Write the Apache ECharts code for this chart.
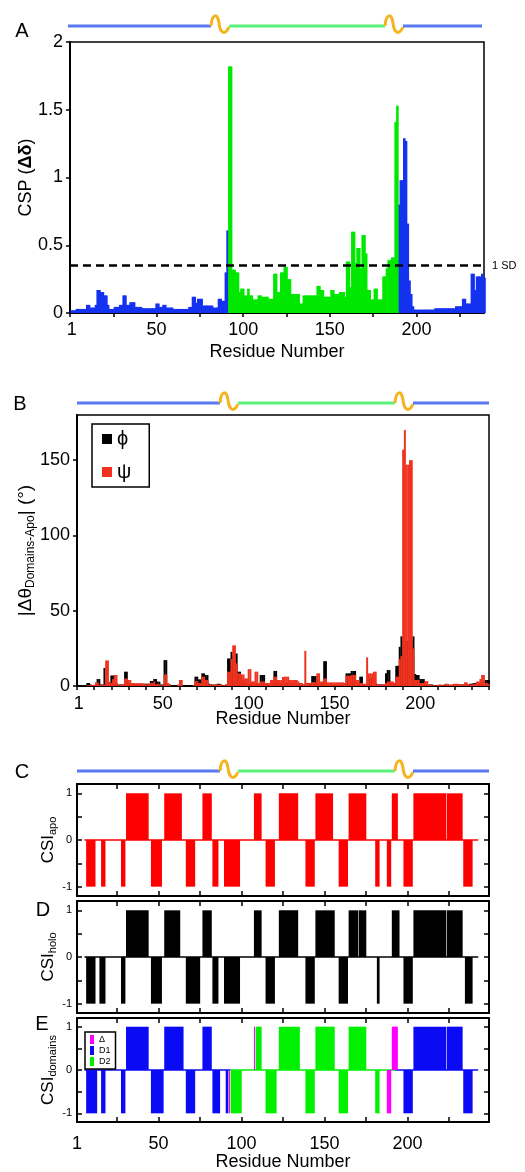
<!DOCTYPE html>
<html><head><meta charset="utf-8">
<script src="https://cdn.jsdelivr.net/npm/echarts@6.0.0/dist/echarts.min.js"></script>
<style>html,body{margin:0;padding:0;background:#fff}#c{width:525px;height:1172px}</style>
</head><body><div id="c"></div>
<script>
// ---------------- DATA ----------------
// Panel A: chemical shift perturbation per residue (residues 1..240)
const cspValues = [
0.02,0.02,0.02,0.03,0.03,0.03,0.03,0.03,0.03,0.06,
0.06,0.04,0.04,0.04,0.06,0.17,0.17,0.155,0.155,0.13,
0.13,0.06,0.03,0.03,0.03,0.045,0.045,0.045,0.06,0.06,
0.13,0.13,0.06,0.06,0.08,0.08,0.08,0.045,0.045,0.045,
0.045,0.035,0.035,0.035,0.035,0.035,0.035,0.035,0.035,0.07,
0.07,0.045,0.045,0.06,0.06,0.04,0.04,0.04,0.04,0.03,
0.03,0.03,0.03,0.03,0.03,0.03,0.03,0.03,0.045,0.045,
0.12,0.12,0.075,0.105,0.105,0.105,0.055,0.055,0.055,0.055,
0.055,0.055,0.04,0.04,0.04,0.105,0.105,0.09,0.09,0.3,
0.61,1.82,1.82,0.32,0.32,0.3,0.3,0.155,0.18,0.18,
0.13,0.13,0.18,0.13,0.13,0.1,0.1,0.1,0.13,0.13,
0.12,0.12,0.12,0.12,0.105,0.105,0.105,0.29,0.29,0.155,
0.155,0.3,0.3,0.34,0.34,0.25,0.25,0.14,0.14,0.14,
0.14,0.14,0.07,0.07,0.13,0.13,0.13,0.13,0.13,0.13,
0.13,0.13,0.2,0.2,0.17,0.17,0.12,0.12,0.12,0.12,
0.17,0.17,0.14,0.14,0.14,0.155,0.155,0.155,0.12,0.38,
0.38,0.19,0.6,0.6,0.37,0.48,0.48,0.33,0.575,0.575,
0.44,0.17,0.17,0.1,0.1,0.18,0.18,0.1,0.1,0.1,
0.27,0.27,0.33,0.39,0.39,0.41,0.41,1.41,1.53,0.8,
0.98,0.98,1.29,1.27,0.66,0.24,0.14,0.05,0.025,0.025,
0.025,0.025,0.025,0.025,0.025,0.025,0.025,0.025,0.025,0.025,
0.035,0.035,0.035,0.035,0.035,0.035,0.035,0.035,0.035,0.035,
0.035,0.035,0.05,0.05,0.05,0.05,0.105,0.105,0.07,0.07,
0.07,0.29,0.29,0.17,0.27,0.27,0.27,0.29,0.26,0.26
];
const domain2Range = [92, 189];      // residues coloured as domain 2 (green)
const sdLevel = 0.353;               // 1 SD threshold

// Panel B: |Δθ| phi and psi per residue (1..240)
const phiValues = [
0,0,0,0,0,2,2,1,0.5,0.5,
1,4.6,4.6,1,1,12,2,2,2,7,
7,2,2,1,1,1,1,9.5,9.5,2,
1,1.5,1.5,1.5,1.5,1.5,1.5,1.5,1.5,1.5,
1.5,1.5,3.3,3.3,4.6,4.6,2.9,2.9,1,1,
17.2,17.2,1.5,1,0.5,0,0,0,0,0,
0,0,0,0,0,0,0,0.5,6.2,6.2,
4.4,4.4,8.4,8.4,7.3,7.3,1.5,1,1,1,
1,1.5,1.5,1,0.5,0.5,1,18.3,18.3,22.7,
20,21.6,21.6,9.5,9.5,4,4,2,2,2,
2,2,1.5,1.5,1.5,1.5,7.3,7.3,7.3,2,
1,1,2,2,10,10,3,2,2,2,
2,2,2,2,1.5,1.5,1.5,1.5,1.5,1,
1,1,1,2,2,2,6.6,6.6,6.6,2,
2,2,2,16.5,16.5,1.5,1,1,1,1,
1,1,1,1,1,1,8.4,8.4,8.4,10,
10,10,2,2,6.2,6.2,1,1,1,5.5,
5.5,5.5,2,2,1,1,1,1,1,8.4,
10.6,10.6,2,2,1,13.4,13.4,26,33,30,
30,30,30,30,30,33,8,7.3,7.3,4.6,
4.6,4.6,1,1,1,1,1,0.5,0.5,0.5,
0.5,0.5,0.5,1,1,1,0.5,0.5,1,1,
1,1,1,1,1,1,1,1,1.5,1.5,
2,2,2,2,2,1,1,4,4,4
];
const psiValues = [
0,0,0,0,0,0.5,0.5,0.5,0.7,0.7,
2.4,2.4,1,0.5,1,1,17,17,3,2,
4.6,7.3,7.3,1,0.5,1,1,5,5,4,
4,2,2,1.8,1.8,1.8,1.8,1.8,1.5,1.5,
1,1.5,2,2,3,1,1.5,1,0.5,0.5,
7.7,7.7,2,1,0,0,0,0,1,4,
4,0,0,0,0,0,0,0.5,3.3,3.3,
2,2,6.2,6.2,4,4,1,1,1,1,
1,1,1,1,0.5,0.5,1,9.5,9.5,18,
27,27,15,8.4,8.4,7.7,7.7,5,5,11.2,
11.2,3,3,9.5,9.5,2,3,3,3,2,
2,2,4,4,6.2,6.2,4,4,4,6,
6.2,6.2,6.2,4,4,4,4,4,3,2,
2,1,23.3,2,2,2,2.5,2.5,2.5,8.4,
8.4,3,3,5,5,2.4,2.4,2.4,2.4,2.4,
2.4,2.4,2.4,2.4,2.4,2,6.8,6.8,6.8,7.3,
7.3,7.3,4,4,2,2,1.5,1.5,19,8.4,
8.4,8.4,9.5,9.5,1,1,1,1,1,2,
3,3,3,3,2,6.2,6.2,18,20,157,
170,147,147,150,150,25,4,4,4,2,
2,2,3.3,3.3,1,1,0.5,0.5,0.5,0.5,
1,1,0.5,0.5,1.5,1.5,1,1,1,1.5,
1.5,1.5,1,1,1,2.4,2.4,1,1,1,
1.5,1.5,3,3,4.6,7.3,7.3,2,2,1
];

// Panels C-E: chemical shift index runs [firstResidue, lastResidue, value]
const csiApo = [[6,242,0],
 [7,12,-1],[16,18,-1],[28,30,-1],[31,44,1],[46,52,-1],[54,64,1],[67,72,-1],[77,82,1],[83,86,-1],
 [90,99,-1],[108,112,1],[115,120,-1],[123,134,1],[139,144,-1],[145,155,1],[159,164,-1],[165,175,1],
 [181,183,-1],[188,190,-1],[191,194,1],[198,203,-1],[204,223,1],[224,233,1],[234,239,-1]];
const csiHolo = [[6,242,0],
 [7,12,-1],[15,18,-1],[28,30,-1],[31,44,1],[46,52,-1],[54,63,1],[67,75,-1],[77,82,1],[83,86,-1],
 [90,99,-1],[108,112,1],[115,120,-1],[123,134,1],[139,144,-1],[145,156,1],[159,164,-1],[165,170,1],[171,175,1],
 [182,183,-1],[191,195,1],[198,203,-1],[204,223,1],[224,233,1],[235,239,-1]];
const csiDomD1 = [[6,93,0],[193,242,0],
 [7,13,-1],[16,18,-1],[28,30,-1],[31,44,1],[46,53,-1],[54,65,1],[67,72,-1],[77,82,1],[83,87,-1],
 [91,92,-1],[198,203,-1],[204,223,1],[224,233,1],[234,239,-1]];
const csiDomD2 = [[94,192,0],
 [94,100,-1],[109,112,1],[115,121,-1],[123,135,1],[139,144,-1],[145,156,1],[159,164,-1],[165,175,1],[181,183,-1]];
const csiDomDelta = [[93,93,-1],[108,108,1],[188,190,-1],[191,194,1]];

// axis ticks / labels
const residueTickLabels = [1, 50, 100, 150, 200];
const ticksA = [0,25,50,75,100,125,150,175,200,225];
const ticksB = [0,10,20,30,40,50,60,70,80,90,100,110,120,130,140,150,160,170,180,190,200,210,220,230,240];
const ticksCSI = [25,50,75,100,125,150,175,200,225];
const csiYTicks = [-1,-0.5,0,0.5,1];
const csiYLabels = [-1,0,1];
const angleYLabels = [0,50,100,150];

// ---------------- CHART ----------------
const FONT = 'Liberation Sans, Arial, Helvetica, sans-serif';
const chart = echarts.init(document.getElementById('c'), null, {renderer:'canvas', width:525, height:1172});

const aD1 = [], aD2 = [];
cspValues.forEach((v,i)=>{ const r=i+1; (r>=domain2Range[0]&&r<=domain2Range[1]?aD2:aD1).push([r,v]); });
const phiData = phiValues.map((v,i)=>[i+1,v]);
const psiData = psiValues.map((v,i)=>[i+1,v]);

const black = '#000';
const lineBlk = {show:true, onZero:false, lineStyle:{color:black, width:2}};

function csiRender(params, api){
  const s = api.value(0), e = api.value(1), v = api.value(2);
  const p0 = api.coord([s-0.5, 0]);
  const p1 = api.coord([e+0.5, v]);
  const color = api.visual('color');
  if (v === 0) {
    return {type:'line', shape:{x1:p0[0], y1:p0[1], x2:p1[0], y2:p0[1]}, style:{stroke:color, lineWidth:1.5}};
  }
  return {type:'rect', shape:{x:p0[0], y:Math.min(p0[1],p1[1]), width:p1[0]-p0[0]-0.6, height:Math.abs(p1[1]-p0[1])}, style:{fill:color}};
}
function csiSeries(name, data, xi, yi, color, z){
  return {type:'custom', name, xAxisIndex:xi, yAxisIndex:yi, data, renderItem:csiRender,
    encode:{x:[0,1], y:2}, itemStyle:{color}, z:z||2, silent:true};
}
function csiX(gi, pos, labels){
  return {type:'value', gridIndex:gi, position:pos, min:1, max:249,
    axisLine:lineBlk,
    axisTick:{show:true, inside:true, length:5, customValues:ticksCSI, lineStyle:{color:black, width:1.5}},
    axisLabel:{show:labels, customValues:residueTickLabels, fontSize:18, color:black, margin:13, fontFamily:FONT},
    splitLine:{show:false},
    name: labels ? 'Residue Number' : '', nameLocation:'middle', nameGap:31, nameMoveOverlap:false,
    nameTextStyle:{fontSize:18, color:black, fontFamily:FONT}};
}
function csiY(gi, pos, name){
  return {type:'value', gridIndex:gi, position:pos, min:-1.2, max:1.2,
    axisLine:lineBlk,
    axisTick:{show:true, inside:true, length:5, customValues:csiYTicks, lineStyle:{color:black, width:1.5}},
    axisLabel:{show:pos==='left', customValues:csiYLabels, fontSize:11, color:black, margin:5, fontFamily:FONT},
    splitLine:{show:false},
    name: name||'', nameLocation:'middle', nameGap:19, nameRotate:90, nameMoveOverlap:false,
    nameTextStyle:{fontSize:17, color:black, fontFamily:FONT, lineHeight:20,
      rich:{s:{fontSize:11, fontFamily:FONT, color:black, verticalAlign:'bottom', lineHeight:12}}}};
}

function schematic(y, x0, xs1, xs2, x1){
  const blue = '#5b78f0', green = '#5cf07c', gold = '#f4b41e';
  const w = 18;
  const line = (a,b,c)=>({type:'line', silent:true, shape:{x1:a, y1:y, x2:b, y2:y}, style:{stroke:c, lineWidth:3}});
  const bz = (x)=>[
    {type:'bezierCurve', silent:true, shape:{x1:x, y1:y, cpx1:x+1, cpy1:y-13, cpx2:x+7, cpy2:y-13, x2:x+8, y2:y-3},
     style:{stroke:gold, lineWidth:3, fill:null}},
    {type:'bezierCurve', silent:true, shape:{x1:x+8, y1:y-3, cpx1:x+9, cpy1:y+7, cpx2:x+14, cpy2:y+10, x2:x+18, y2:y+1},
     style:{stroke:gold, lineWidth:3, fill:null}}
  ];
  return [line(x0,xs1,blue)].concat(bz(xs1), [line(xs1+w,xs2,green)], bz(xs2), [line(xs2+w,x1,blue)]);
}
function letter(t,x,y){
  return {type:'text', silent:true, style:{text:t, x, y, fontSize:20, fontFamily:FONT, fill:black, align:'center', verticalAlign:'middle'}};
}

const option = {
  animation:false,
  backgroundColor:'#fff',
  textStyle:{fontFamily:FONT},
  grid:[
    {left:70, top:42, width:414, height:271, show:true, borderColor:black, borderWidth:1.5, backgroundColor:'transparent'},
    {left:77, top:415, width:412, height:271, show:true, borderColor:black, borderWidth:1.5, backgroundColor:'transparent'},
    {left:77, top:784, width:412, height:112},
    {left:77, top:901, width:412, height:112},
    {left:77, top:1018, width:412, height:112}
  ],
  legend:[
    {data:['ϕ','ψ'], left:92, top:424, orient:'vertical', icon:'rect', itemWidth:10, itemHeight:10, itemGap:13,
     padding:[5,18,5,10], borderColor:black, borderWidth:1.5, selectedMode:false,
     textStyle:{fontSize:20, color:black, fontFamily:FONT}},
    {data:['Δ','D1','D2'], left:85, top:1032, orient:'vertical', icon:'rect', itemWidth:4, itemHeight:9, itemGap:2,
     padding:[3,5,3,5], borderColor:black, borderWidth:1.5, selectedMode:false,
     textStyle:{fontSize:9, color:black, fontFamily:FONT}}
  ],
  xAxis:[
    {type:'value', gridIndex:0, min:0, max:239, axisLine:lineBlk,
     axisTick:{show:true, inside:false, length:4, customValues:ticksA, lineStyle:{color:black, width:1.5}},
     axisLabel:{customValues:residueTickLabels, fontSize:18, color:black, margin:8, fontFamily:FONT},
     splitLine:{show:false}, name:'Residue Number', nameLocation:'middle', nameGap:30, nameMoveOverlap:false,
     nameTextStyle:{fontSize:18, color:black, fontFamily:FONT}},
    {type:'value', gridIndex:1, min:0, max:240, axisLine:lineBlk,
     axisTick:{show:true, inside:false, length:4, customValues:ticksB, lineStyle:{color:black, width:1.5}},
     axisLabel:{customValues:residueTickLabels, fontSize:18, color:black, margin:9, fontFamily:FONT},
     splitLine:{show:false}, name:'Residue Number', nameLocation:'middle', nameGap:24, nameMoveOverlap:false,
     nameTextStyle:{fontSize:18, color:black, fontFamily:FONT}},
    csiX(2,'bottom',false), csiX(2,'top',false),
    csiX(3,'bottom',false), csiX(3,'top',false),
    csiX(4,'bottom',true), csiX(4,'top',false)
  ],
  yAxis:[
    {type:'value', gridIndex:0, min:0, max:2, interval:0.5, axisLine:lineBlk,
     axisTick:{show:true, inside:false, length:4, lineStyle:{color:black, width:1.5}},
     axisLabel:{fontSize:18, color:black, margin:7, fontFamily:FONT},
     splitLine:{show:false}, name:'CSP ({b|Δδ})', nameLocation:'middle', nameGap:35, nameRotate:90, nameMoveOverlap:false,
     nameTextStyle:{fontSize:18, color:black, fontFamily:FONT, rich:{b:{fontSize:18, fontWeight:'bold', fontFamily:FONT, color:black}}}},
    {type:'value', gridIndex:1, min:0, max:180, axisLine:lineBlk,
     axisTick:{show:true, inside:false, length:4, customValues:angleYLabels, lineStyle:{color:black, width:1.5}},
     axisLabel:{customValues:angleYLabels, fontSize:18, color:black, margin:7, fontFamily:FONT},
     splitLine:{show:false}, name:'|Δθ{s|Domains-Apo}| (°)', nameLocation:'middle', nameGap:40, nameRotate:90, nameMoveOverlap:false,
     nameTextStyle:{fontSize:19, color:black, fontFamily:FONT, lineHeight:22,
       rich:{s:{fontSize:12, fontFamily:FONT, color:black, verticalAlign:'bottom', lineHeight:13}}}},
    csiY(2,'left','CSI{s|apo}'), csiY(2,'right'),
    csiY(3,'left','CSI{s|holo}'), csiY(3,'right'),
    csiY(4,'left','CSI{s|domains}'), csiY(4,'right')
  ],
  series:[
    {type:'bar', name:'CSP D1', xAxisIndex:0, yAxisIndex:0, data:aD1, barWidth:2.6, barGap:'-100%',
     itemStyle:{color:'#1432f0'}, silent:true,
     markLine:{symbol:'none', silent:true, data:[{yAxis:sdLevel}],
       lineStyle:{type:[8,5], width:2.5, color:black},
       label:{show:true, position:'end', formatter:'1 SD', fontSize:11, color:black, fontFamily:FONT, distance:8}}},
    {type:'bar', name:'CSP D2', xAxisIndex:0, yAxisIndex:0, data:aD2, barWidth:2.6, barGap:'-100%',
     itemStyle:{color:'#00e800'}, silent:true},
    {type:'bar', name:'ϕ', xAxisIndex:1, yAxisIndex:1, data:phiData, barWidth:2, barGap:'-100%',
     itemStyle:{color:'#000'}, silent:true},
    {type:'bar', name:'ψ', xAxisIndex:1, yAxisIndex:1, data:psiData, barWidth:2, barGap:'-100%',
     itemStyle:{color:'#f0321e'}, silent:true},
    csiSeries('CSI apo', csiApo, 2, 2, '#ff0000'),
    csiSeries('CSI holo', csiHolo, 4, 4, '#000000'),
    csiSeries('D1', csiDomD1, 6, 6, '#0a0af5', 2),
    csiSeries('D2', csiDomD2, 6, 6, '#00f000', 3),
    csiSeries('Δ', csiDomDelta, 6, 6, '#ff00ff', 4)
  ],
  graphic:[].concat(
    schematic(26, 68, 211, 385, 482),
    schematic(403, 77, 220, 395, 489),
    schematic(771, 77, 220, 395, 489),
    [letter('A',22,31), letter('B',20,404), letter('C',22,772), letter('D',43,910), letter('E',42,1024)]
  )
};
chart.setOption(option);
</script></body></html>
